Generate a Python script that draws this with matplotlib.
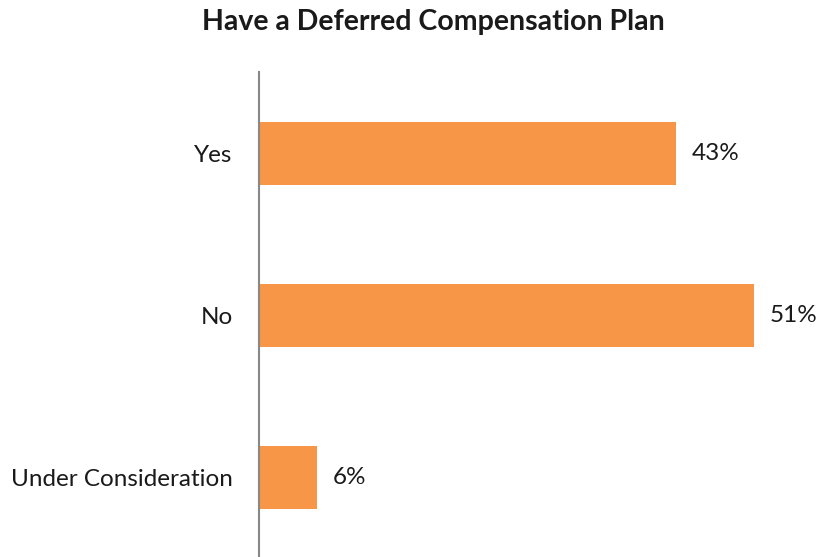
import matplotlib.pyplot as plt

# data
categories = ['Yes', 'No', 'Under Consideration']
values = [43, 51, 6]

plt.rcParams['font.family'] = ['Lato', 'DejaVu Sans']

fig = plt.figure(figsize=(8.2, 5.57), dpi=100)
ax = fig.add_axes([259 / 820, 0.0, 543 / 820, 1 - 72 / 557])

bar_color = '#F79646'
y = list(range(len(categories)))
ax.barh(y, values, height=0.39, color=bar_color)

for yi, v in zip(y, values):
    ax.text(v + 1.65, yi, f'{v}%', va='center', ha='left', fontsize=17.5, color='#1a1a1a')

ax.set_xlim(0, 56)
ax.set_ylim(2.49, -0.503)
ax.set_yticks(y)
ax.set_yticklabels(categories, fontsize=17.5, color='#1a1a1a')
ax.tick_params(axis='y', length=0, pad=19)
ax.set_xticks([])

for s in ['top', 'right', 'bottom']:
    ax.spines[s].set_visible(False)
ax.spines['left'].set_color('#888888')
ax.spines['left'].set_linewidth(1.5)

fig.text(433 / 820, 1 - 22 / 557, 'Have a Deferred Compensation Plan', ha='center', va='center',
         fontsize=20.5, fontweight='bold', color='#1a1a1a')

fig.savefig('out.png', dpi=100)
